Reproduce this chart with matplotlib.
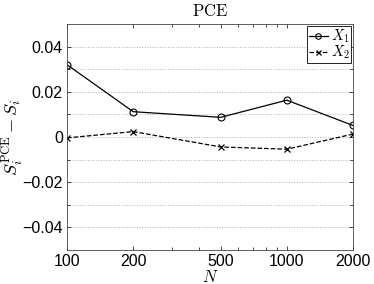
import numpy as np
import matplotlib
matplotlib.use('Agg')
import matplotlib.pyplot as plt
from matplotlib.ticker import FixedLocator, NullFormatter

plt.rcParams['mathtext.fontset'] = 'cm'
plt.rcParams['font.family'] = ['Liberation Sans', 'DejaVu Sans']

# data
N = [100, 200, 500, 1000, 2000]
x1_err = [0.032, 0.0112, 0.0087, 0.0163, 0.0051]
x2_err = [-0.0004, 0.0024, -0.0044, -0.0054, 0.0013]
xtick_labels = ['100', '200', '500', '1000', '2000']
yticks = [-0.04, -0.02, 0, 0.02, 0.04]
ytick_labels = ['\u22120.04', '\u22120.02', '0', '0.02', '0.04']

fig = plt.figure(figsize=(3.74, 2.84), dpi=100)
ax = fig.add_axes([67/374, 1 - 250/284, (353-67)/374, (250-24)/284])

ax.plot(N, x1_err, '-', color='black', marker='o', markersize=5,
        markerfacecolor='none', markeredgewidth=0.8, linewidth=0.9, label='$X_1$')
ax.plot(N, x2_err, '--', color='black', marker='x', markersize=4.5,
        markeredgewidth=0.9, linewidth=0.9, label='$X_2$')

ax.set_xscale('log')
ax.set_xlim(100, 2000)
ax.set_ylim(-0.05, 0.05)
ax.set_xticks(N)
ax.set_xticklabels(xtick_labels)
ax.xaxis.set_minor_locator(FixedLocator([300, 400, 600, 700, 800, 900]))
ax.xaxis.set_minor_formatter(NullFormatter())
ax.set_yticks(yticks)
ax.set_yticklabels(ytick_labels)
ax.yaxis.set_minor_locator(FixedLocator([-0.03, -0.01, 0.01, 0.03]))

ax.yaxis.grid(True, which='both', linestyle=':', color='#b0b0b0', linewidth=0.7)
ax.tick_params(which='both', direction='in', top=True, right=True,
               labelsize=11.5, length=3, width=0.5)
ax.tick_params(which='minor', length=2)
ax.tick_params(axis='x', pad=3)
ax.tick_params(axis='y', pad=3)
for s in ax.spines.values():
    s.set_linewidth(0.6)
    s.set_color('#444444')

ax.set_title(r'$\mathrm{PCE}$', fontsize=12, pad=6)
ax.set_xlabel('$N$', fontsize=12, labelpad=0)
ax.set_ylabel(r'$S_i^{\mathrm{PCE}} - S_i$', fontsize=13)
ax.yaxis.set_label_coords(-0.145, 0.5)

leg = ax.legend(loc='upper right', fontsize=10.5, handlelength=1.3,
                handletextpad=0.2, borderpad=0.1, labelspacing=-0.1,
                borderaxespad=0.15, fancybox=False, framealpha=1,
                markerscale=0.8)
leg.get_frame().set_edgecolor('black')
leg.get_frame().set_linewidth(0.6)

fig.savefig('out.png', dpi=100)
